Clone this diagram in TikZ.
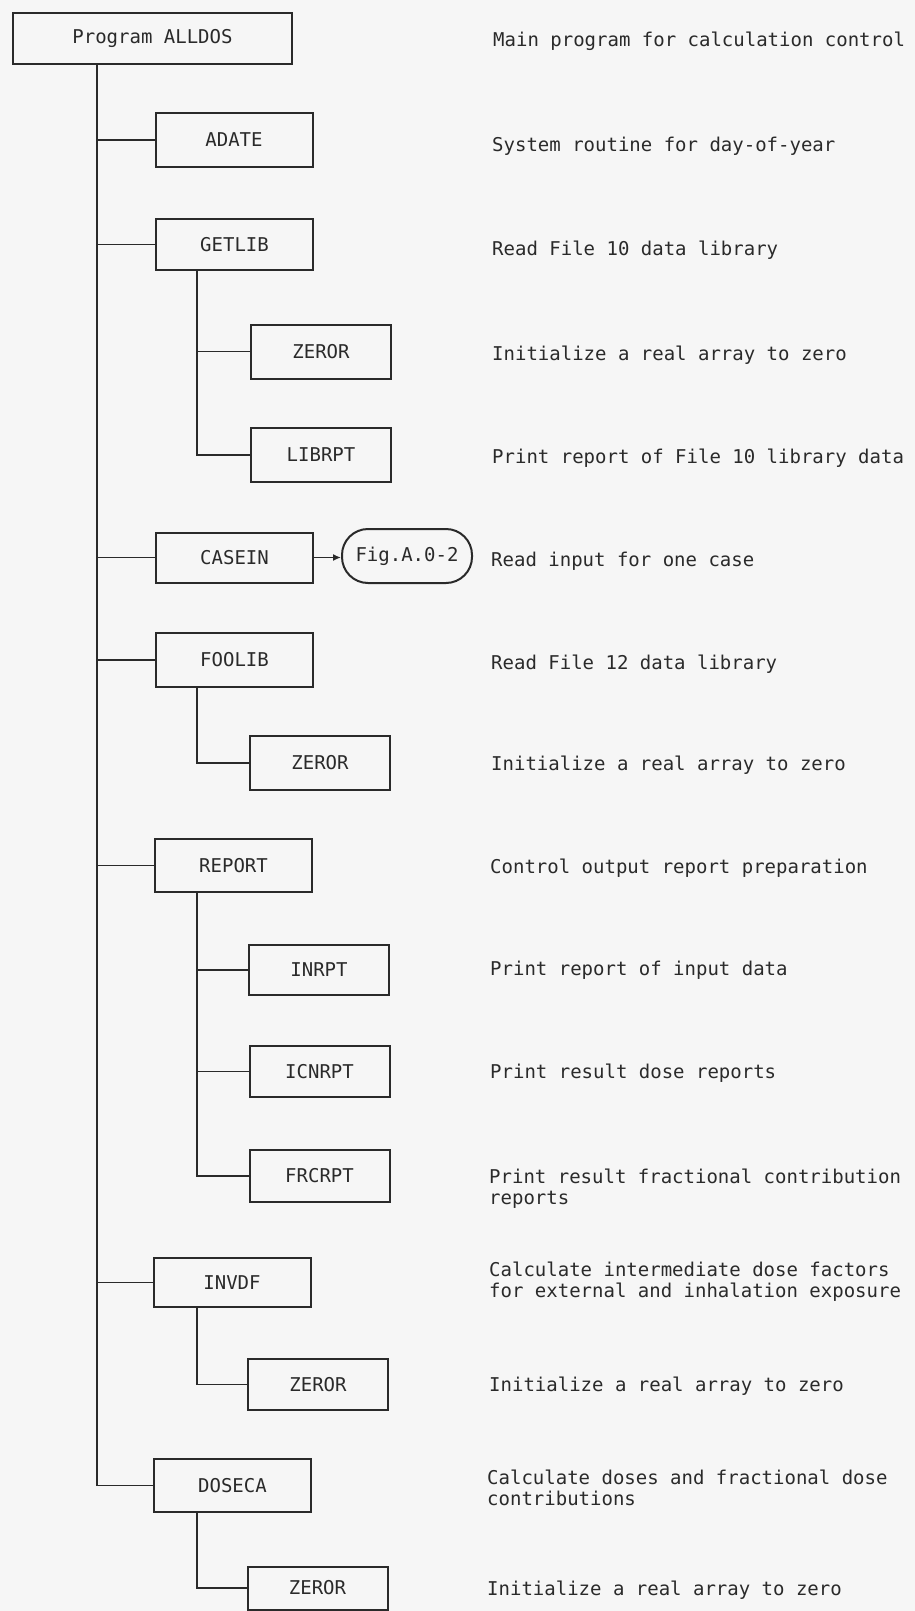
\documentclass[tikz,border=0pt]{standalone}
\usepackage{fontspec}
\setmonofont{DejaVu Sans Mono}
\usetikzlibrary{arrows.meta}
\definecolor{ink}{HTML}{2A2A2A}
\definecolor{paper}{HTML}{F6F6F6}
\begin{document}
\begin{tikzpicture}[x=1pt,y=-1pt,
  every node/.style={font=\ttfamily\fontsize{19}{21}\selectfont, text=ink},
  box/.style={draw=ink, line width=2pt, inner sep=0pt},
  lvla/.style={box, minimum width=157pt},
  lvlb/.style={box, minimum width=140pt},
  desc/.style={anchor=west, align=left, inner sep=0pt},
  link/.style={draw=ink, line width=1.6pt}]
\fill[paper] (0,0) rectangle (915,1611);
\useasboundingbox (0,0) rectangle (915,1611);

% boxes
\node[box, minimum width=279pt, minimum height=51pt] (alldos) at (152.5,38.5) {Program ALLDOS};
\node[lvla, minimum height=54pt] (adate)  at (234,140)     {ADATE};
\node[lvla, minimum height=51pt] (getlib) at (234.5,244.5) {GETLIB};
\node[lvlb, minimum height=54pt] (zerora) at (321,351.5)   {ZEROR};
\node[lvlb, minimum height=54pt] (librpt) at (321,455)     {LIBRPT};
\node[lvla, minimum height=50pt] (casein) at (234.5,557.5) {CASEIN};
\node[box, rounded corners=26pt, minimum width=130pt, minimum height=54pt] (fig) at (407,556) {Fig.A.0-2};
\node[lvla, minimum height=54pt] (foolib) at (234.5,660)   {FOOLIB};
\node[lvlb, minimum height=54pt] (zerorb) at (320,763)     {ZEROR};
\node[lvla, minimum height=53pt] (report) at (233.5,865.5) {REPORT};
\node[lvlb, minimum height=50pt] (inrpt)  at (319,970)     {INRPT};
\node[lvlb, minimum height=51pt] (icnrpt) at (319.5,1071.5){ICNRPT};
\node[lvlb, minimum height=52pt] (frcrpt) at (319.5,1176)  {FRCRPT};
\node[lvla, minimum height=49pt] (invdf)  at (232,1282.5)  {INVDF};
\node[lvlb, minimum height=51pt] (zerorc) at (318,1384.5)  {ZEROR};
\node[lvla, minimum height=53pt] (doseca) at (232.5,1485.5){DOSECA};
\node[lvlb, minimum height=43pt] (zerord) at (317.5,1588)  {ZEROR};

% trunk coordinates
\coordinate (tr) at (97,0);
\coordinate (sb) at (197,0);

% main trunk branches
\draw[link] (alldos.south -| tr) |- (adate.west);
\draw[link] (alldos.south -| tr) |- (getlib.west);
\draw[link] (alldos.south -| tr) |- (casein.west);
\draw[link] (alldos.south -| tr) |- (foolib.west);
\draw[link] (alldos.south -| tr) |- (report.west);
\draw[link] (alldos.south -| tr) |- (invdf.west);
\draw[link] (alldos.south -| tr) |- (doseca.west);

% sub branches
\draw[link] (getlib.south -| sb) |- (zerora.west);
\draw[link] (getlib.south -| sb) |- (librpt.west);
\draw[link] (foolib.south -| sb) |- (zerorb.west);
\draw[link] (report.south -| sb) |- (inrpt.west);
\draw[link] (report.south -| sb) |- (icnrpt.west);
\draw[link] (report.south -| sb) |- (frcrpt.west);
\draw[link] (invdf.south -| sb) |- (zerorc.west);
\draw[link] (doseca.south -| sb) |- (zerord.west);

% arrow to figure reference
\draw[link, -{Latex[length=8pt,width=7pt]}] (casein.east) -- (casein.east -| fig.west);

% descriptions
\node[desc] (d1)  at (493,41)     {Main program for calculation control};
\node[desc] (d2)  at (492,146)    {System routine for day-of-year};
\node[desc] (d3)  at (492,250)    {Read File 10 data library};
\node[desc] (d4)  at (492,355)    {Initialize a real array to zero};
\node[desc] (d5)  at (492,458)    {Print report of File 10 library data};
\node[desc] (d6)  at (491,561)    {Read input for one case};
\node[desc] (d7)  at (491,664)    {Read File 12 data library};
\node[desc] (d8)  at (491,765)    {Initialize a real array to zero};
\node[desc] (d9)  at (490,868)    {Control output report preparation};
\node[desc] (d10) at (490,970)    {Print report of input data};
\node[desc] (d11) at (490,1073)   {Print result dose reports};
\node[desc] (d12) at (489,1188.5) {Print result fractional contribution\\reports};
\node[desc] (d13) at (489,1281.5) {Calculate intermediate dose factors\\for external and inhalation exposure};
\node[desc] (d14) at (489,1386)   {Initialize a real array to zero};
\node[desc] (d15) at (487,1487.5) {Calculate doses and fractional dose\\contributions};
\node[desc] (d16) at (487,1590)   {Initialize a real array to zero};
\end{tikzpicture}
\end{document}
